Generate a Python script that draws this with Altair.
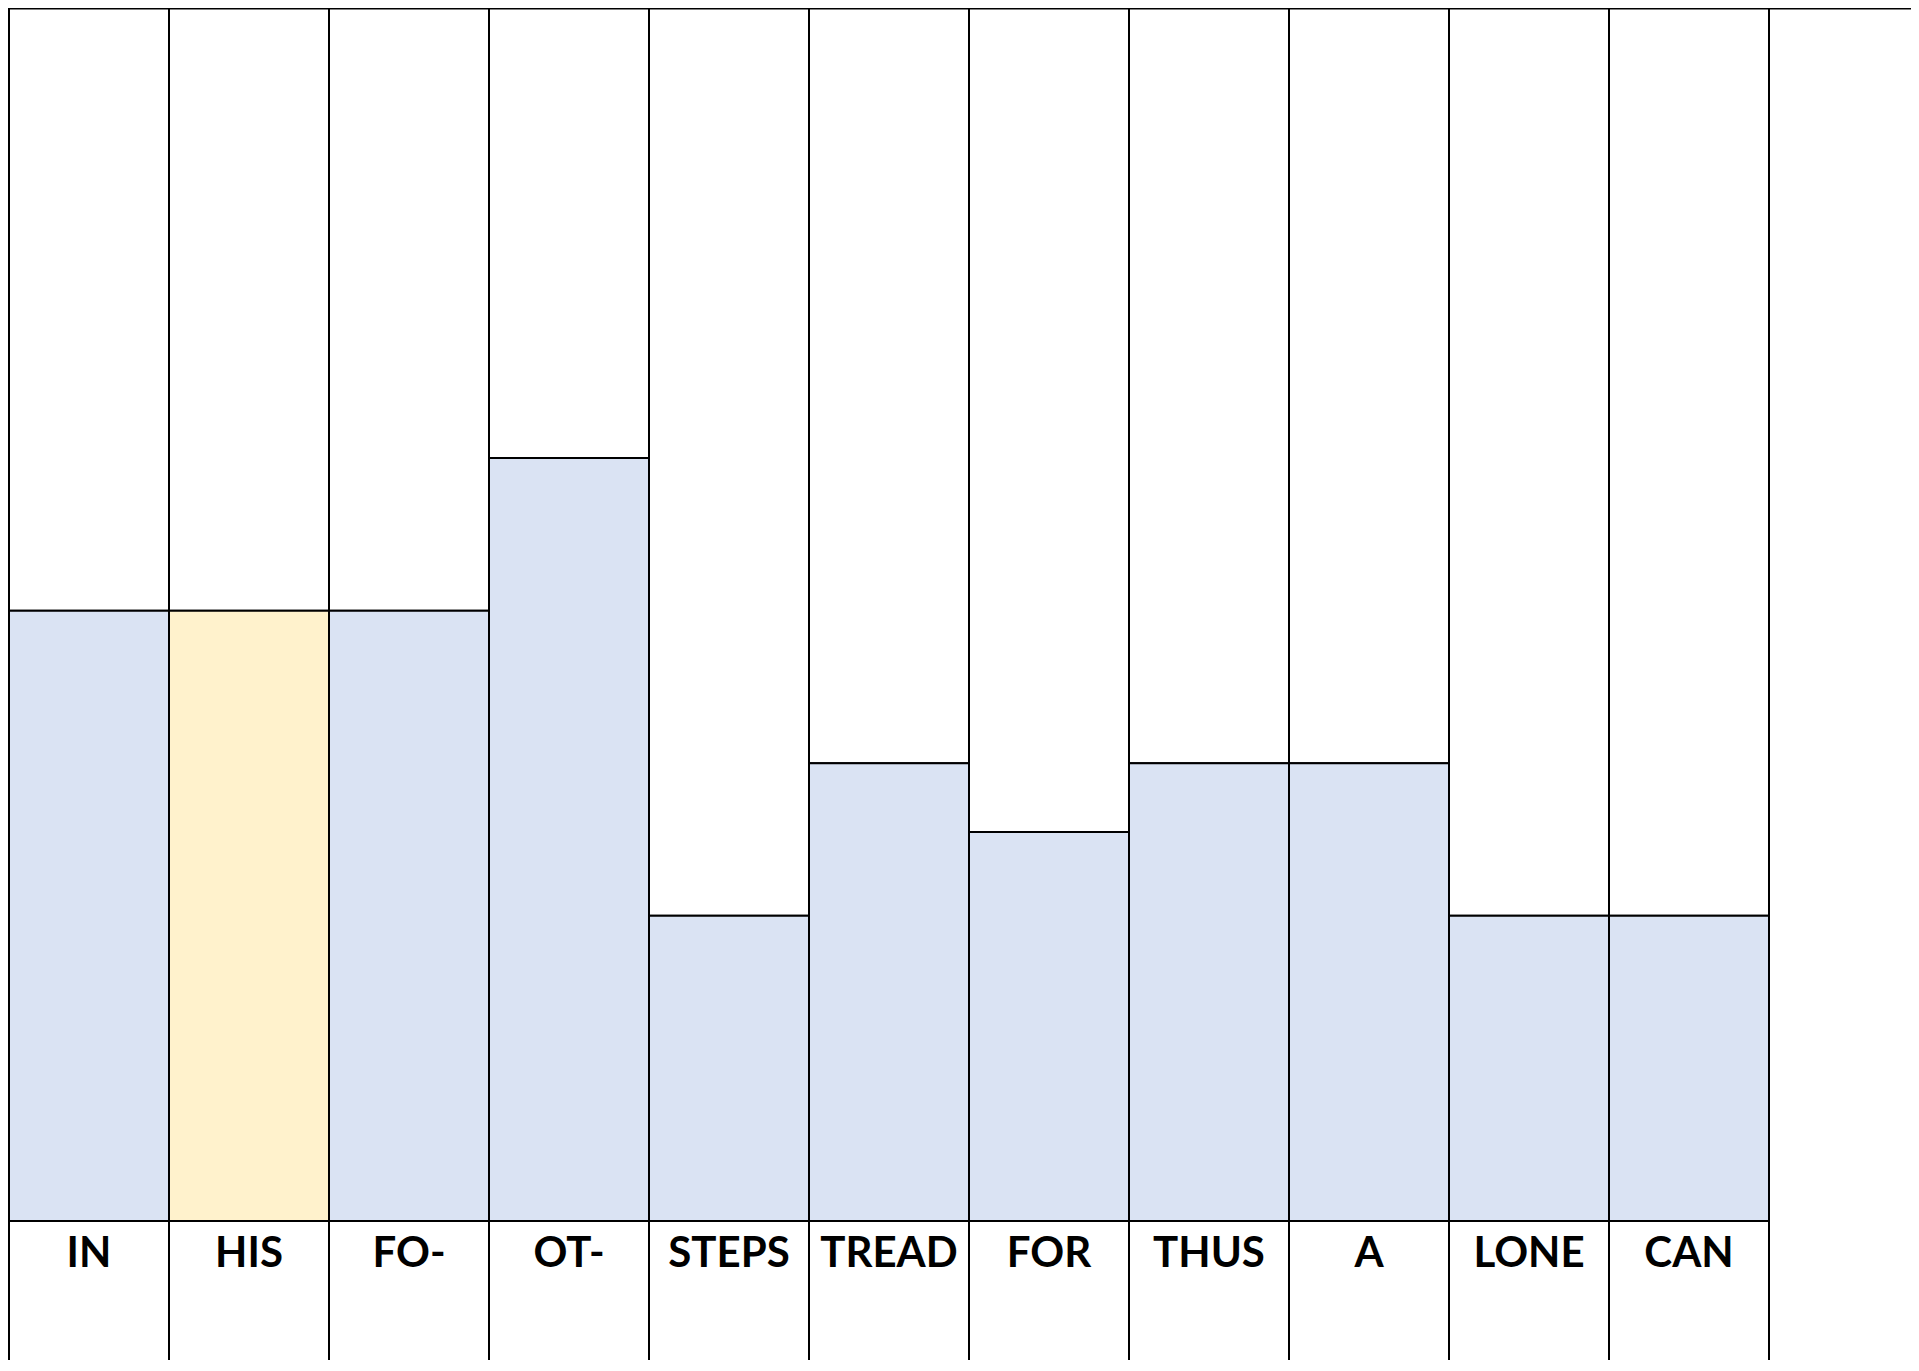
import altair as alt
import pandas as pd

words = ["IN", "HIS", "FO-", "OT-", "STEPS", "TREAD", "FOR", "THUS", "A", "LONE", "CAN"]
values = [4, 4, 4, 5, 2, 3, 2.55, 3, 3, 2, 2]
highlight = ["no", "yes", "no", "no", "no", "no", "no", "no", "no", "no", "no"]
ceiling = 7.95

df = pd.DataFrame({"word": words, "value": values, "hl": highlight})
df["top"] = ceiling
df["zero"] = 0

W, H = 1903, 1352
BLACK = "#000000"
SW = 2

xscale = alt.Scale(range=[1, 1761], paddingInner=0, paddingOuter=0)
xenc = alt.X("word:N", sort=words, axis=None, scale=xscale)
yscale = alt.Scale(domain=[-0.911, ceiling], nice=False, zero=False)

base = alt.Chart(df)

upper = base.mark_rect(fill="white", stroke=BLACK, strokeWidth=SW).encode(
    x=xenc,
    y=alt.Y("value:Q", scale=yscale, axis=None),
    y2="top:Q",
)

bars = base.mark_rect(stroke=BLACK, strokeWidth=SW).encode(
    x=xenc,
    y=alt.Y("zero:Q", scale=yscale, axis=None),
    y2="value:Q",
    fill=alt.Fill("hl:N", legend=None,
                  scale=alt.Scale(domain=["no", "yes"], range=["#DAE3F3", "#FFF2CC"])),
)

label_cells = base.mark_rect(fill="white", stroke=BLACK, strokeWidth=SW, clip=True).transform_calculate(
    low="-1.3"
).encode(
    x=xenc,
    y=alt.Y("low:Q", scale=yscale, axis=None),
    y2="zero:Q",
)

labels = base.mark_text(
    font="Lato", fontWeight="bold", fontSize=42, color=BLACK,
    baseline="alphabetic", align="center", dy=46,
).encode(
    x=alt.X("word:N", sort=words, axis=None, scale=xscale, bandPosition=0.5),
    y=alt.Y("zero:Q", scale=yscale, axis=None),
    text="word:N",
)

top_rule = alt.Chart(pd.DataFrame({"top": [ceiling]})).mark_rule(
    stroke=BLACK, strokeWidth=3
).encode(
    y=alt.Y("top:Q", scale=yscale, axis=None),
    x=alt.value(0),
    x2=alt.value(W),
)

chart = alt.layer(upper, bars, label_cells, labels, top_rule).properties(
    width=W, height=H, autosize=alt.AutoSizeParams(type="none"), padding=0
).configure_view(stroke=None)

chart.save("out.html", embed_options={"renderer": "svg", "actions": False})
